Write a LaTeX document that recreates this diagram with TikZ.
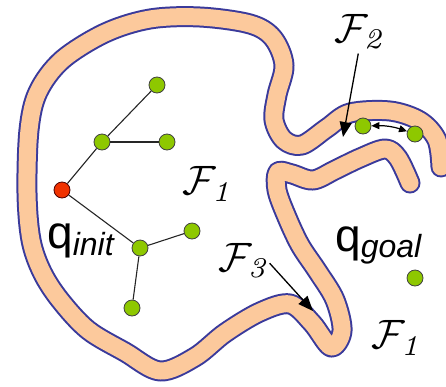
\documentclass[tikz,border=0pt]{standalone}
\usepackage{fontspec}
\newfontfamily\qfont{Liberation Sans}
\usetikzlibrary{arrows.meta}
\definecolor{bandfill}{RGB}{252,201,156}
\definecolor{bandblue}{RGB}{58,58,155}
\definecolor{nodegreen}{RGB}{142,200,0}
\definecolor{nodered}{RGB}{240,50,0}
\tikzset{
  bandstroke/.style={draw=bandfill, line width=17pt, line cap=round, line join=round,
    preaction={draw=bandblue, line width=21pt, line cap=round, line join=round}},
  gnode/.style={circle, fill=nodegreen, draw=black!75, line width=0.8pt, minimum size=16pt, inner sep=0pt},
  rnode/.style={circle, fill=nodered, draw=black!70!red, line width=0.8pt, minimum size=16pt, inner sep=0pt},
  tedge/.style={draw=black!85, line width=1.1pt},
  bigarrow/.style={draw=black, line width=1.3pt, -{Triangle[length=15pt,width=12pt]}},
  dblarrow/.style={draw=black, line width=1.2pt, {Triangle[length=8pt,width=7pt]}-{Triangle[length=8pt,width=7pt]}},
  flabel/.style={inner sep=0pt, text=black},
  qlabel/.style={inner sep=0pt, anchor=base west, text=black}
}
\begin{document}
\begin{tikzpicture}[x=1pt, y=-1pt]
\useasboundingbox (0,0) rectangle (446,386);
% obstacle band
\draw[bandstroke] plot[smooth, tension=0.55] coordinates {
 (441,167) (437,140) (420,121) (390,111) (350,113) (327,128) (302,145) (284,140)
 (274,120) (277,95) (284,65) (273,38) (250,24) (200,17) (150,19) (105,33) (62,60)
 (38,92) (29,130) (27,193) (31,240) (42,272) (60,300) (88,330) (125,352) (160,371)
 (195,357) (225,333) (260,312) (290,304) (312,323) (331,347) (342,331) (335,300)
 (318,272) (300,245) (286,215) (277,190) (278,172) (292,174) (313,180) (335,170)
 (360,158) (385,149) (398,158) (410,183)};
% tree
\node[rnode] (r) at (62,190) {};
\node[gnode] (b) at (102,142) {};
\node[gnode] (a) at (157,85) {};
\node[gnode] (c) at (167,142) {};
\node[gnode] (d) at (140,248) {};
\node[gnode] (e) at (192,231) {};
\node[gnode] (f) at (132,308) {};
\draw[tedge] (r) -- (b);
\draw[tedge] (b) -- (a);
\draw[tedge] (b) -- (c);
\draw[tedge] (r) -- (d);
\draw[tedge] (d) -- (e);
\draw[tedge] (d) -- (f);
% narrow passage nodes
\node[gnode] (p1) at (363,126) {};
\node[gnode] (p2) at (415,134) {};
\draw[dblarrow] (p1) to[bend left=10] (p2);
% goal
\node[gnode] (g) at (415,278) {};
% labels
\node[flabel] (F1a) at (207,184) {\scalebox{4.1}{$\mathcal{F}_{\mathit{1}}$}};
\node[flabel] (F2) at (359,32) {\scalebox{4.1}{$\mathcal{F}_{\mathit{2}}$}};
\node[flabel] (F3) at (243,261) {\scalebox{4.1}{$\mathcal{F}_{\mathit{3}}$}};
\node[flabel] (F1b) at (396,338) {\scalebox{4.1}{$\mathcal{F}_{\mathit{1}}$}};
\node[qlabel] (qi) at (47,248) {{\qfont\fontsize{46}{46}\selectfont q}\raisebox{-7pt}{\qfont\itshape\fontsize{32}{32}\selectfont init}};
\node[qlabel] (qg) at (335,251) {{\qfont\fontsize{46}{46}\selectfont q}\raisebox{-6pt}{\qfont\itshape\fontsize{32}{32}\selectfont goal}};
% pointer arrows
\coordinate (t2) at (343,137);
\coordinate (t3) at (313,311);
\draw[bigarrow, shorten <=4pt] (F2.south) -- (t2);
\draw[bigarrow, shorten <=3pt] (F3.east) -- (t3);
\end{tikzpicture}
\end{document}
